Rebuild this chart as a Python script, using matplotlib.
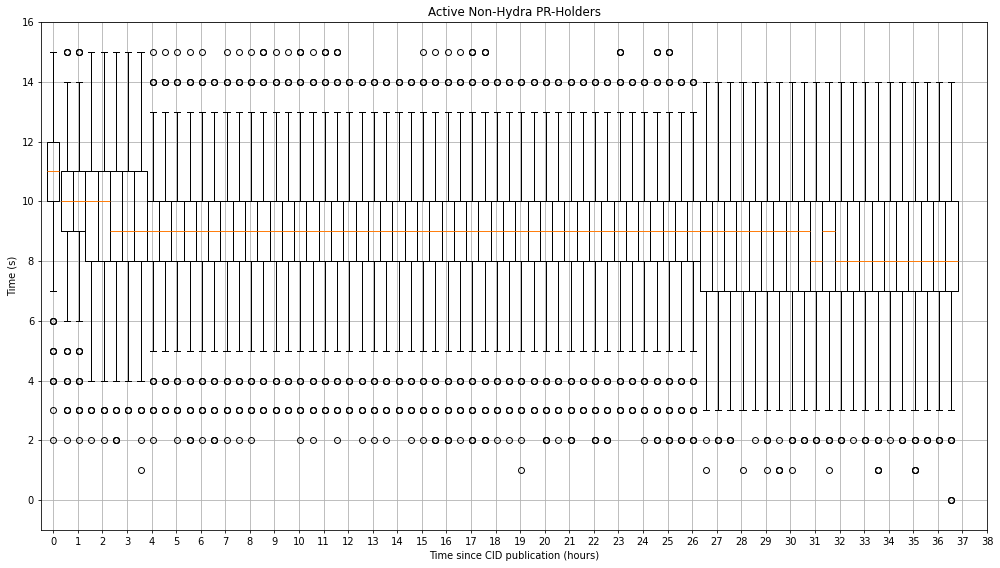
import matplotlib
matplotlib.use("Agg")
import matplotlib.pyplot as plt
import numpy as np

# Half-hour bins (hours since CID publication)
hours = np.arange(0, 37, 0.5)          # 74 bins: 0 .. 36.5
positions = hours + np.where(hours > 0, 0.05, 0.0)

q1 = [10, 9, 9, 8, 8, 8, 8, 8,
      8, 8, 8, 8, 8, 8, 8, 8, 8, 8, 8, 8, 8, 8, 8,
      8, 8, 8, 8, 8, 8, 8, 8, 8, 8, 8, 8, 8, 8, 8,
      8, 8, 8, 8, 8, 8, 8, 8, 8, 8, 8, 8, 8, 8, 8,
      7, 7, 7, 7, 7, 7, 7, 7, 7, 7, 7,
      7, 7, 7, 7, 7, 7, 7, 7, 7, 7]
med = [11, 10, 10, 10, 10, 9, 9, 9,
       9, 9, 9, 9, 9, 9, 9, 9, 9, 9, 9, 9, 9, 9, 9,
       9, 9, 9, 9, 9, 9, 9, 9, 9, 9, 9, 9, 9, 9, 9,
       9, 9, 9, 9, 9, 9, 9, 9, 9, 9, 9, 9, 9, 9, 9,
       9, 9, 9, 9, 9, 9, 9, 9, 9, 8, 9,
       8, 8, 8, 8, 8, 8, 8, 8, 8, 8]
q3 = [12, 11, 11, 11, 11, 11, 11, 11,
      10, 10, 10, 10, 10, 10, 10, 10, 10, 10, 10, 10, 10, 10, 10,
      10, 10, 10, 10, 10, 10, 10, 10, 10, 10, 10, 10, 10, 10, 10,
      10, 10, 10, 10, 10, 10, 10, 10, 10, 10, 10, 10, 10, 10, 10,
      10, 10, 10, 10, 10, 10, 10, 10, 10, 10, 10,
      10, 10, 10, 10, 10, 10, 10, 10, 10, 10]
whislo = [7, 6, 6, 4, 4, 4, 4, 4,
          5, 5, 5, 5, 5, 5, 5, 5, 5, 5, 5, 5, 5, 5, 5,
          5, 5, 5, 5, 5, 5, 5, 5, 5, 5, 5, 5, 5, 5, 5,
          5, 5, 5, 5, 5, 5, 5, 5, 5, 5, 5, 5, 5, 5, 5,
          3, 3, 3, 3, 3, 3, 3, 3, 3, 3, 3,
          3, 3, 3, 3, 3, 3, 3, 3, 3, 3]
whishi = [15, 14, 14, 15, 15, 15, 15, 15,
          13, 13, 13, 13, 13, 13, 13, 13, 13, 13, 13, 13, 13, 13, 13,
          13, 13, 13, 13, 13, 13, 13, 13, 13, 13, 13, 13, 13, 13, 13,
          13, 13, 13, 13, 13, 13, 13, 13, 13, 13, 13, 13, 13, 13, 13,
          14, 14, 14, 14, 14, 14, 14, 14, 14, 14, 14,
          14, 14, 14, 14, 14, 14, 14, 14, 14, 14]

# Outliers: value -> bin indices (single point) / (many coincident points)
fliers_single = {
    15: [8, 9, 10, 11, 12, 14, 15, 16, 18, 19, 21, 30, 31, 32, 33],
    3: [0],
    2: [0, 1, 2, 3, 4, 7, 8, 10, 12, 14, 15, 16, 20, 21, 23, 25, 26, 27, 29,
        30, 33, 36, 37, 38, 41, 48, 53, 57, 59, 65, 68],
    1: [7, 38, 53, 56, 58, 60, 63],
}
fliers_many = {
    15: [1, 2, 17, 20, 22, 23, 34, 35, 46, 49, 50],
    14: list(range(8, 53)),
    6: [0],
    5: [0, 1, 2],
    4: [0, 1, 2] + list(range(8, 53)),
    3: list(range(1, 53)),
    2: [5, 11, 13, 31, 32, 34, 35, 40, 42, 44, 45, 49, 50, 51, 52, 54, 55,
        58, 60, 61, 62, 63, 64, 66, 67, 69, 70, 71, 72, 73],
    1: [59, 67, 70],
    0: [73],
}

stats = []
for i in range(len(hours)):
    f = []
    for v, idx in fliers_single.items():
        if i in idx:
            f.append(v)
    for v, idx in fliers_many.items():
        if i in idx:
            f.extend([v] * 3)
    stats.append(dict(q1=q1[i], med=med[i], q3=q3[i],
                      whislo=whislo[i], whishi=whishi[i], fliers=f))

DPI = 1000 / 14
fig = plt.figure(figsize=(14, 568 / DPI), dpi=DPI)
ax = fig.add_axes([0.041, 0.0669, 0.946, 0.8944])
ax.bxp(stats, positions=positions, widths=0.5, manage_ticks=False)
ax.set_xticks(range(0, 39))
ax.set_xlim(-0.5, 38)
ax.set_ylim(-1, 16)
ax.grid(True)
ax.set_title("Active Non-Hydra PR-Holders")
ax.set_xlabel("Time since CID publication (hours)")
ax.set_ylabel("Time (s)")
fig.savefig("out.png", dpi=DPI, facecolor="white")
